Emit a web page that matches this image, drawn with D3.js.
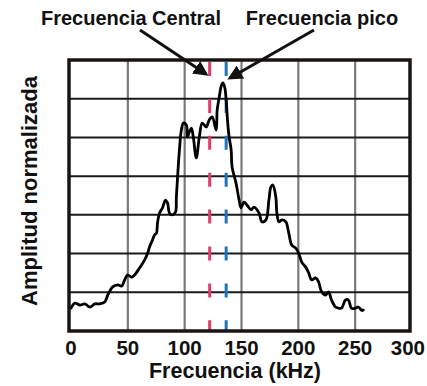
<!DOCTYPE html>
<html><head><meta charset="utf-8">
<script src="https://cdn.jsdelivr.net/npm/d3@7/dist/d3.min.js"></script>
<style>body{margin:0;background:#fff}svg{display:block}</style></head>
<body>
<svg id="chart" width="427" height="386"></svg>
<script>
// Spectrum trace (frequency in kHz, amplitude in grid units 0..7)
const freq = [0,3.5,7.9,12.2,16.6,21,25.4,29.7,32.4,36.7,41.1,44.6,47.2,49.9,53.4,56,60.4,64.7,67.4,69.1,71.7,73.5,75.2,76.1,77.9,80.5,83.1,84.9,86.6,89.2,91.9,92.7,93.6,95.4,97.1,98.9,101.5,102.4,104.1,105.9,107.6,110.2,112.9,115.5,119,121.6,124.2,127.7,128.6,130.4,132.2,133.5,135.2,136.5,137.8,139.1,140.9,141.7,145.2,147.9,149.6,152.2,154.9,158.4,161,165.4,168,171.5,174.1,175.9,177.6,180.2,181.1,182.9,185.5,189,191.6,194.2,197.7,200.3,203,206.5,209.1,211.7,215.2,217.8,220.5,224,226.6,229.2,232.7,235.3,238,241.5,244.1,246.7,250.2,252.8,255.5,257.2];
const amp  = [0.59,0.72,0.67,0.70,0.62,0.70,0.70,0.75,0.93,1.14,1.19,1.16,1.32,1.45,1.39,1.45,1.63,1.83,2.01,2.17,2.35,2.48,2.53,2.79,3.05,3.18,3.38,3.31,3.05,3.00,3.07,3.46,3.90,4.68,5.19,5.37,5.32,5.01,5.14,5.24,5.01,4.47,5.01,5.37,5.27,5.45,5.53,5.19,5.71,6.04,6.33,6.41,6.30,5.97,5.40,5.01,4.68,4.24,3.82,3.38,3.18,3.33,3.25,3.13,3.20,3.05,2.82,2.87,3.38,3.72,3.77,3.46,3.05,2.82,2.87,2.82,2.53,2.22,2.14,2.01,1.78,1.65,1.50,1.32,1.37,1.27,1.01,0.93,1.01,0.80,0.62,0.59,0.59,0.80,0.80,0.59,0.59,0.62,0.54,0.54];
const xTicks = [0,50,100,150,200,250,300];
const yGrid  = [1,2,3,4,5,6];
const markerNames  = ["Frecuencia Central","Frecuencia pico"];
const markerFreqs  = [122,136.5];
const markerColors = ["#e03c6a","#1f73b8"];
const xTitle = "Frecuencia (kHz)";
const yTitle = "Amplitud normalizada";

const svg = d3.select("#chart");
const font = "'Liberation Sans', Arial, sans-serif";
const plot = {left:69, right:410, top:60, bottom:331};
const x = d3.scaleLinear().domain([0,300]).range([71,412]);
const y = d3.scaleLinear().domain([0,7]).range([plot.bottom, plot.top]);

// vertical grid (gray)
svg.append("g").selectAll("line").data(xTicks.slice(1,-1)).join("line")
  .attr("x1",d=>x(d)).attr("x2",d=>x(d)).attr("y1",plot.top).attr("y2",plot.bottom)
  .attr("stroke","#7a7a7a").attr("stroke-width",2.2);
// horizontal grid (black)
svg.append("g").selectAll("line").data(yGrid).join("line")
  .attr("x1",plot.left).attr("x2",plot.right).attr("y1",d=>y(d)).attr("y2",d=>y(d))
  .attr("stroke","#1a1a1a").attr("stroke-width",2);

// dashed marker lines
svg.append("g").selectAll("line").data(markerFreqs).join("line")
  .attr("x1",d=>x(d)).attr("x2",d=>x(d)).attr("y1",62).attr("y2",plot.bottom)
  .attr("stroke",(d,i)=>markerColors[i]).attr("stroke-width",3)
  .attr("stroke-dasharray","14 22.9");

// trace
const line = d3.line().x((d,i)=>x(freq[i])).y((d,i)=>y(amp[i])).curve(d3.curveCatmullRom.alpha(0.5));
svg.append("path").datum(amp).attr("d",line)
  .attr("fill","none").attr("stroke","#000").attr("stroke-width",2.8)
  .attr("stroke-linejoin","round").attr("stroke-linecap","round");

// frame
svg.append("rect").attr("x",plot.left).attr("y",plot.top)
  .attr("width",plot.right-plot.left).attr("height",plot.bottom-plot.top)
  .attr("fill","none").attr("stroke","#1a1412").attr("stroke-width",3.5);

// x tick labels (kept inside the 427px canvas)
svg.append("g").selectAll("text").data(xTicks).join("text")
  .attr("x",d=>x(d)).attr("y",355).attr("text-anchor","middle")
  .attr("font-family",font).attr("font-weight","bold").attr("font-size",20.5)
  .attr("fill","#111").text(d=>d)
  .each(function(){
    const b=this.getBBox();
    if(b.x+b.width>425){ d3.select(this).attr("x",+d3.select(this).attr("x")-(b.x+b.width-425)); }
  });

svg.append("text").attr("x",235).attr("y",378).attr("text-anchor","middle")
  .attr("font-family",font).attr("font-weight","bold").attr("font-size",21.5)
  .attr("fill","#111").text(xTitle);

svg.append("text").attr("transform","translate(37,191) rotate(-90)").attr("text-anchor","middle")
  .attr("font-family",font).attr("font-weight","bold").attr("font-size",22)
  .attr("fill","#111").text(yTitle);

// annotations
svg.append("defs").append("marker").attr("id","ah").attr("viewBox","0 0 10 10")
  .attr("refX",8).attr("refY",5).attr("markerWidth",5).attr("markerHeight",5)
  .attr("orient","auto").attr("markerUnits","strokeWidth")
  .append("path").attr("d","M0,0 L10,5 L0,10 z").attr("fill","#111");

const ann = [
  {tx:131, ty:25, x1:140, y1:30, x2:206, y2:74},
  {tx:322, ty:25, x1:314, y1:30, x2:230, y2:78}
];
svg.append("g").selectAll("text").data(markerNames).join("text")
  .attr("x",(d,i)=>ann[i].tx).attr("y",(d,i)=>ann[i].ty).attr("text-anchor","middle")
  .attr("font-family",font).attr("font-weight","bold").attr("font-size",20)
  .attr("fill","#111").text(d=>d);
svg.append("g").selectAll("line").data(ann).join("line")
  .attr("x1",d=>d.x1).attr("y1",d=>d.y1).attr("x2",d=>d.x2).attr("y2",d=>d.y2)
  .attr("stroke","#111").attr("stroke-width",3).attr("marker-end","url(#ah)");
</script>
</body></html>
